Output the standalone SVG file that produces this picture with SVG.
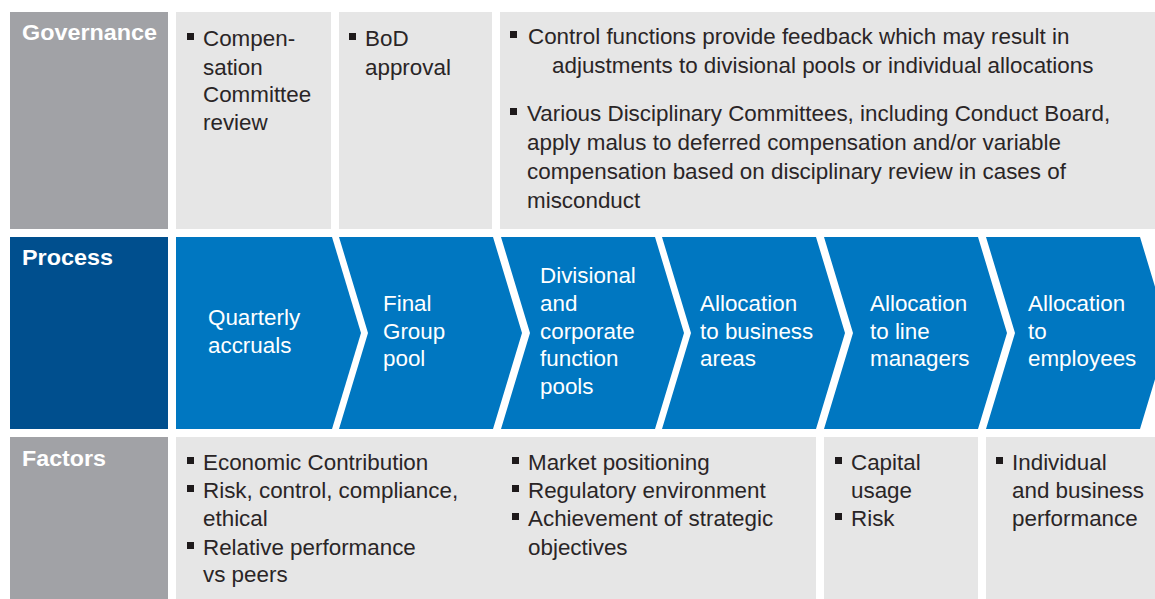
<svg xmlns="http://www.w3.org/2000/svg" width="1155" height="599" viewBox="0 0 1155 599">
<style>
  .lbl { fill: #A1A2A6; }
  .cell { fill: #E6E6E6; }
  .plbl { fill: #004F8E; }
  .chev { fill: #0077C1; }
  .head { font-family: "Liberation Sans", Arial, sans-serif; font-weight: bold; font-size: 22px; fill: #FFFFFF; }
  .t { font-family: "Liberation Sans", Arial, sans-serif; font-size: 22.4px; fill: #2A2526; }
  .w { font-family: "Liberation Sans", Arial, sans-serif; font-size: 22.4px; fill: #FFFFFF; }
  .b { fill: #1E1A1B; }
</style>
<rect x="0" y="0" width="1155" height="599" fill="#FFFFFF"/>

<!-- Governance row -->
<g id="governance-label">
  <rect class="lbl" x="10" y="12" width="158" height="217"/>
  <text class="head" x="22" y="40" textLength="135" lengthAdjust="spacingAndGlyphs">Governance</text>
</g>
<g id="gov-compensation">
  <rect class="cell" x="176" y="12" width="155" height="217"/>
  <rect class="b" x="187" y="33" width="7" height="7"/>
  <text class="t" x="203" y="46">Compen-</text>
  <text class="t" x="203" y="75">sation</text>
  <text class="t" x="203" y="102">Committee</text>
  <text class="t" x="203" y="130">review</text>
</g>
<g id="gov-bod">
  <rect class="cell" x="339" y="12" width="153" height="217"/>
  <rect class="b" x="349" y="33" width="7" height="7"/>
  <text class="t" x="365" y="46">BoD</text>
  <text class="t" x="365" y="75">approval</text>
</g>
<g id="gov-control">
  <rect class="cell" x="500" y="12" width="655" height="217"/>
  <rect class="b" x="510" y="31" width="7" height="7"/>
  <text class="t" x="528" y="44">Control functions provide feedback which may result in</text>
  <text class="t" x="552" y="73">adjustments to divisional pools or individual allocations</text>
  <rect class="b" x="510" y="108" width="7" height="7"/>
  <text class="t" x="527" y="121">Various Disciplinary Committees, including Conduct Board,</text>
  <text class="t" x="527" y="150">apply malus to deferred compensation and/or variable</text>
  <text class="t" x="527" y="179">compensation based on disciplinary review in cases of</text>
  <text class="t" x="527" y="208">misconduct</text>
</g>

<!-- Process row -->
<g id="process-label">
  <rect class="plbl" x="10" y="237" width="158" height="192"/>
  <text class="head" x="22" y="265" textLength="91" lengthAdjust="spacingAndGlyphs">Process</text>
</g>
<g id="step-quarterly">
  <path class="chev" d="M176,237 L332,237 L361,333 L332,429 L176,429 Z"/>
  <text class="w" x="208" y="325">Quarterly</text>
  <text class="w" x="208" y="353">accruals</text>
</g>
<g id="step-final-group">
  <path class="chev" d="M339,237 L493,237 L522,333 L493,429 L339,429 L368,333 Z"/>
  <text class="w" x="383" y="311">Final</text>
  <text class="w" x="383" y="339">Group</text>
  <text class="w" x="383" y="366">pool</text>
</g>
<g id="step-divisional">
  <path class="chev" d="M501,237 L655,237 L684,333 L655,429 L501,429 L530,333 Z"/>
  <text class="w" x="540" y="283">Divisional</text>
  <text class="w" x="540" y="311">and</text>
  <text class="w" x="540" y="339">corporate</text>
  <text class="w" x="540" y="366">function</text>
  <text class="w" x="540" y="394">pools</text>
</g>
<g id="step-business-areas">
  <path class="chev" d="M662,237 L816,237 L845,333 L816,429 L662,429 L691,333 Z"/>
  <text class="w" x="700" y="311">Allocation</text>
  <text class="w" x="700" y="339">to business</text>
  <text class="w" x="700" y="366">areas</text>
</g>
<g id="step-line-managers">
  <path class="chev" d="M824,237 L978,237 L1007,333 L978,429 L824,429 L853,333 Z"/>
  <text class="w" x="870" y="311">Allocation</text>
  <text class="w" x="870" y="339">to line</text>
  <text class="w" x="870" y="366">managers</text>
</g>
<g id="step-employees">
  <path class="chev" d="M986,237 L1140,237 L1169,333 L1140,429 L986,429 L1015,333 Z"/>
  <text class="w" x="1028" y="311">Allocation</text>
  <text class="w" x="1028" y="339">to</text>
  <text class="w" x="1028" y="366">employees</text>
</g>

<!-- Factors row -->
<g id="factors-label">
  <rect class="lbl" x="10" y="437" width="158" height="162"/>
  <text class="head" x="22" y="466" textLength="84" lengthAdjust="spacingAndGlyphs">Factors</text>
</g>
<g id="factors-group">
  <rect class="cell" x="176" y="437" width="640" height="162"/>
  <rect class="b" x="187" y="457" width="7" height="7"/>
  <text class="t" x="203" y="470">Economic Contribution</text>
  <rect class="b" x="187" y="485" width="7" height="7"/>
  <text class="t" x="203" y="498">Risk, control, compliance,</text>
  <text class="t" x="203" y="526">ethical</text>
  <rect class="b" x="187" y="542" width="7" height="7"/>
  <text class="t" x="203" y="555">Relative performance</text>
  <text class="t" x="203" y="582">vs peers</text>
  <rect class="b" x="512" y="457" width="7" height="7"/>
  <text class="t" x="528" y="470">Market positioning</text>
  <rect class="b" x="512" y="485" width="7" height="7"/>
  <text class="t" x="528" y="498">Regulatory environment</text>
  <rect class="b" x="512" y="513" width="7" height="7"/>
  <text class="t" x="528" y="526">Achievement of strategic</text>
  <text class="t" x="528" y="555">objectives</text>
</g>
<g id="factors-capital">
  <rect class="cell" x="824" y="437" width="154" height="162"/>
  <rect class="b" x="835" y="457" width="7" height="7"/>
  <text class="t" x="851" y="470">Capital</text>
  <text class="t" x="851" y="498">usage</text>
  <rect class="b" x="835" y="513" width="7" height="7"/>
  <text class="t" x="851" y="526">Risk</text>
</g>
<g id="factors-individual">
  <rect class="cell" x="986" y="437" width="169" height="162"/>
  <rect class="b" x="996" y="457" width="7" height="7"/>
  <text class="t" x="1012" y="470">Individual</text>
  <text class="t" x="1012" y="498">and business</text>
  <text class="t" x="1012" y="526">performance</text>
</g>

<g id="connectors"></g>
</svg>
